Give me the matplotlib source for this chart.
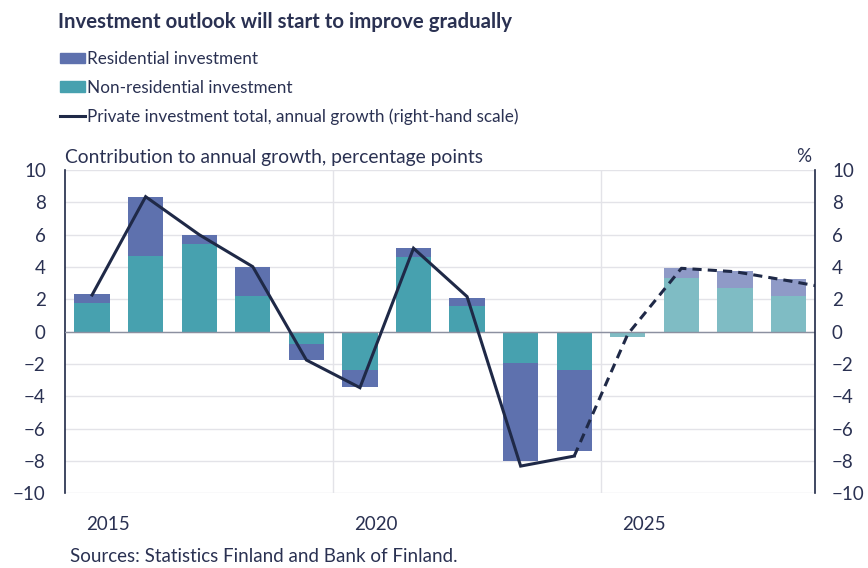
import numpy as np
import matplotlib.pyplot as plt
from matplotlib.patches import Patch
from matplotlib.lines import Line2D

# -------------------- Data --------------------
years = ['2015', '2016', '2017', '2018', '2019', '2020', '2021',
         '2022', '2023', '2024', '2025', '2026', '2027', '2028']
non_residential = [1.75, 4.68, 5.40, 2.23, -0.76, -2.35, 4.62,
                   1.59, -1.92, -2.35, -0.32, 3.32, 2.72, 2.21]
residential = [0.58, 3.63, 0.56, 1.75, -0.97, -1.09, 0.58,
               0.51, -6.10, -5.01, 0.00, 0.64, 1.03, 1.05]
# total growth, last value (2029) only shows as the line leaving the plot
total_growth = [2.27, 8.35, 6.0, 4.02, -1.75, -3.46, 5.16,
                2.17, -8.31, -7.69, -0.15, 3.92, 3.71, 3.15, 2.55]
first_forecast = 10   # 2025 onwards is forecast
tick_years = ['2015', '2020', '2025']

# -------------------- Style --------------------
c_res = '#5E71AE'
c_nonres = '#47A1AF'
c_res_f = '#8F9AC7'
c_nonres_f = '#7FBCC4'
c_line = '#1F2947'
c_text = '#2A3152'
c_grid = '#E3E3E8'

plt.rcParams['font.family'] = ['Lato', 'DejaVu Sans']

fig = plt.figure(figsize=(8.68, 5.68), dpi=100)
ax = fig.add_axes([0.0752, 0.1313, 0.8641, 0.5694])

x = np.arange(len(years))
fc = np.arange(len(years)) >= first_forecast
col_nonres = [c_nonres_f if f else c_nonres for f in fc]
col_res = [c_res_f if f else c_res for f in fc]

nonres = np.array(non_residential)
res = np.array(residential)
# stack residential on the same side as non-residential
bottom_res = np.where(res >= 0, np.maximum(nonres, 0), np.minimum(nonres, 0))

ax.bar(x, nonres, width=0.66, color=col_nonres, zorder=2)
ax.bar(x, res, width=0.66, bottom=bottom_res, color=col_res, zorder=2)

ax.set_xlim(-0.5, len(years) - 0.5)
ax.set_ylim(-10, 10)
ax.set_yticks(np.arange(-10, 11, 2))
ax.grid(axis='y', color=c_grid, lw=1, zorder=0)
ax.axhline(0, color='#8C90A0', lw=1, zorder=3)
for xv in [4.5, 9.5]:
    ax.axvline(xv, color=c_grid, lw=1, zorder=0)

for s in ['top', 'bottom', 'right']:
    ax.spines[s].set_visible(False)
ax.spines['left'].set_color(c_line)
ax.spines['left'].set_linewidth(1.2)

ax.tick_params(axis='y', length=0, labelsize=13.5, labelcolor=c_text, pad=14)
ax.tick_params(axis='x', length=0, labelsize=13.5, labelcolor=c_text, pad=16)
ax.set_xticks([years.index(t) + 0.3 for t in tick_years])
ax.set_xticklabels(tick_years)
ax.set_yticklabels([str(v).replace('-', '\u2212') for v in range(-10, 11, 2)])

# right-hand axis for the total line
ax2 = ax.twinx()
ax2.set_ylim(-10, 10)
ax2.set_yticks(np.arange(-10, 11, 2))
ax2.set_yticklabels([str(v).replace('-', '\u2212') for v in range(-10, 11, 2)])
ax2.tick_params(axis='y', length=0, labelsize=13.5, labelcolor=c_text, pad=12)
for s in ['top', 'bottom', 'left']:
    ax2.spines[s].set_visible(False)
ax2.spines['right'].set_color(c_line)
ax2.spines['right'].set_linewidth(1.2)

xl = np.arange(len(total_growth))
tg = np.array(total_growth)
ax2.plot(xl[:first_forecast], tg[:first_forecast], color=c_line, lw=2.2,
         solid_joinstyle='miter', zorder=4)
ax2.plot(xl[first_forecast - 1:], tg[first_forecast - 1:], color=c_line, lw=2.2,
         ls=(0, (3, 2)), zorder=4)
ax2.set_xlim(-0.5, len(years) - 0.5)

# -------------------- Texts --------------------
fig.text(58 / 868, 1 - 22 / 568, 'Investment outlook will start to improve gradually',
         fontsize=14.7, fontweight='bold', color=c_text, va='center')
fig.text(65 / 868, 1 - 157 / 568, 'Contribution to annual growth, percentage points',
         fontsize=13.9, color=c_text, va='center')
fig.text(811 / 868, 1 - 157 / 568, '%', fontsize=13.5, color=c_text, va='center', ha='right')
fig.text(70 / 868, 1 - 557 / 568, 'Sources: Statistics Finland and Bank of Finland.',
         fontsize=13.5, color=c_text, va='center')

handles = [Patch(color=c_res, label='Residential investment'),
           Patch(color=c_nonres, label='Non-residential investment'),
           Line2D([0], [0], color=c_line, lw=2.2,
                  label='Private investment total, annual growth (right-hand scale)')]
fig.legend(handles=handles, loc='upper left', bbox_to_anchor=(60 / 868, 1 - 51 / 568),
           frameon=False, fontsize=12.3, labelcolor=c_text, handlelength=1.45,
           handleheight=0.6, handletextpad=0.15, labelspacing=0.75, borderpad=0,
           borderaxespad=0)

fig.savefig('out.png', dpi=100)
